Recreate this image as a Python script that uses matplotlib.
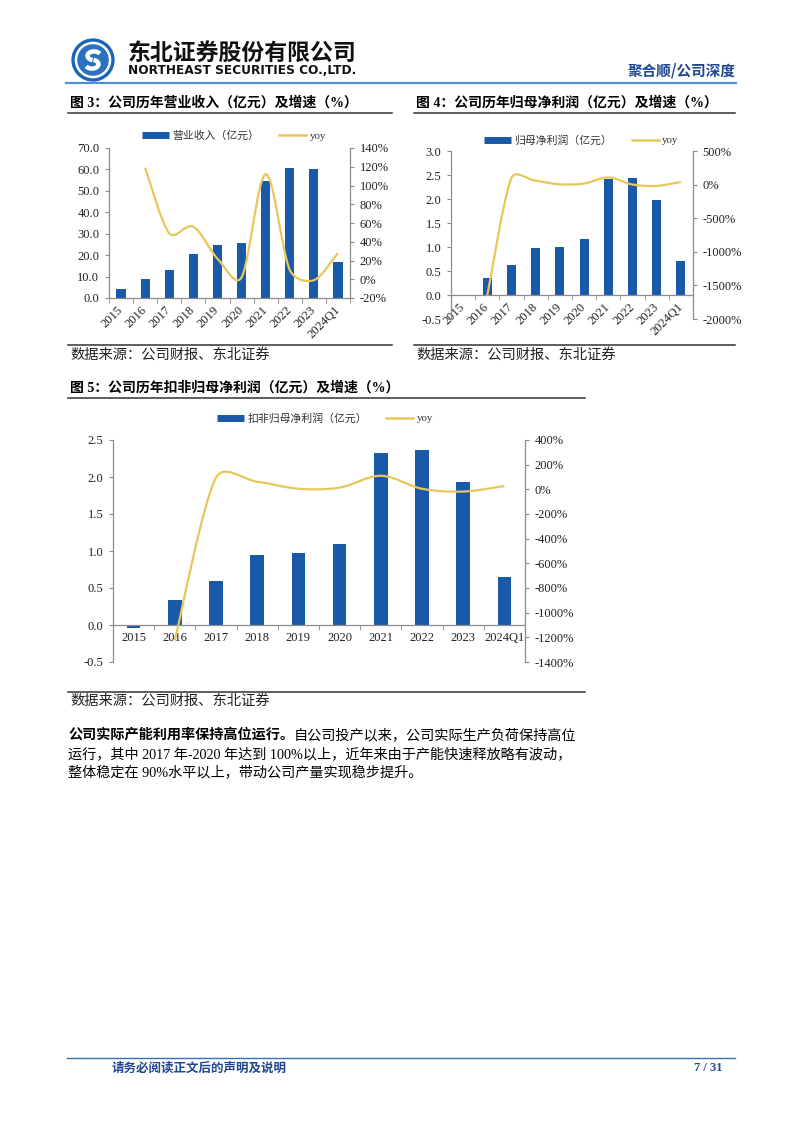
import numpy as np
import matplotlib
matplotlib.use("Agg")
import matplotlib.pyplot as plt
from matplotlib.path import Path
from matplotlib.patches import PathPatch, Circle, Arc
from matplotlib.lines import Line2D
from matplotlib.ticker import FuncFormatter
from matplotlib.font_manager import FontProperties

W, H = 802, 1133

# data
years = ["2015", "2016", "2017", "2018", "2019", "2020", "2021", "2022", "2023", "2024Q1"]
revenue = [4.2, 8.8, 13.2, 20.5, 24.6, 25.9, 54.8, 60.5, 60.3, 16.6]
revenue_yoy = [np.nan, 119, 49, 56, 22, 2, 112, 10, -1, 28]
net_profit = [-0.03, 0.35, 0.62, 0.97, 1.01, 1.17, 2.41, 2.43, 1.98, 0.71]
net_profit_yoy = [np.nan, -1650, 100, 57, 4, 16, 106, 1, -19, 40]
deducted_profit = [-0.04, 0.34, 0.60, 0.95, 0.97, 1.10, 2.32, 2.37, 1.93, 0.65]
deducted_profit_yoy = [np.nan, -1224, 95, 62, 5, 14, 110, 5, -18, 27]

BAR = "#1A58A8"
LINE = "#E8C75A"
AXIS = "#8C8C8C"
NAVY = "#1F4690"
SERIF = ["Liberation Serif", "Noto Sans CJK SC"]
CJK = ["Noto Sans CJK SC", "DejaVu Sans"]

fig = plt.figure(figsize=(W / 100, H / 100), dpi=100)


def box(x0, y0, x1, y1):
    return [x0 / W, 1 - y1 / H, (x1 - x0) / W, (y1 - y0) / H]


def text(x, y, s, **kw):
    return fig.text(x / W, 1 - y / H, s, **kw)


def hline(x0, x1, y, color="#333333", lw=1.0):
    fig.add_artist(Line2D([x0 / W, x1 / W], [1 - y / H] * 2, color=color, lw=lw,
                          transform=fig.transFigure))


def smooth_path(ax, xs, ys, cap=0.4):
    # spreadsheet-style smoothed line: catmull-rom handles, each one kept
    # shorter than a part of its own segment (screen space)
    pts = ax.transData.transform(np.column_stack([xs, ys]))
    n = len(pts)

    def limit(h, seg):
        m = np.hypot(*h)
        return h * min(1.0, cap * seg / m) if m > 0 else h

    verts, codes = [pts[0]], [Path.MOVETO]
    for i in range(n - 1):
        p1, p2 = pts[i], pts[i + 1]
        seg = np.hypot(*(p2 - p1))
        h1 = (p2 - pts[i - 1]) / 6 if i > 0 else (p2 - p1) / 6
        h2 = (pts[i + 2] - p1) / 6 if i + 2 < n else (p2 - p1) / 6
        verts += [p1 + limit(h1, seg), p2 - limit(h2, seg), p2]
        codes += [Path.CURVE4] * 3
    return Path(ax.transData.inverted().transform(np.array(verts)), codes)


def chart(rect, vals, yoy, ylim, ystep, y2lim, y2step, bar_w, label, legend_c,
          rotate, zero_axis, fs):
    ax = fig.add_axes(box(*rect))
    x = np.arange(len(years))
    ax.bar(x, vals, width=bar_w, color=BAR, zorder=2)
    ax.set_xlim(-0.5, len(years) - 0.5)
    ax.set_ylim(*ylim)
    ax.set_yticks(np.round(np.arange(ylim[0], ylim[1] + ystep / 2, ystep), 4))
    ax.yaxis.set_major_formatter(FuncFormatter(lambda v, p: f"{v:.1f}"))
    for s in ("top", "right"):
        ax.spines[s].set_visible(False)
    for s in ("left", "bottom"):
        ax.spines[s].set_color(AXIS)
        ax.spines[s].set_linewidth(0.9)
    if zero_axis:
        ax.spines["bottom"].set_position(("data", 0))
    ax.set_xticks(x)
    ax.set_xticks(np.arange(-0.5, len(years), 1), minor=True)
    if rotate:
        ax.set_xticklabels(years, rotation=45, ha="right", va="center",
                           rotation_mode="anchor")
    else:
        ax.set_xticklabels(years)
    ax.tick_params(axis="x", which="major", length=0, pad=7 if rotate else 5)
    ax.tick_params(axis="x", which="minor", length=3.5, color=AXIS, direction="out")
    ax.tick_params(axis="y", length=3, color=AXIS, pad=4)
    for t in ax.get_xticklabels() + ax.get_yticklabels():
        t.set_fontfamily(SERIF)
        t.set_fontsize(fs)
        t.set_color("#222222")

    ax2 = ax.twinx()
    ax2.set_ylim(*y2lim)
    ax2.set_yticks(np.arange(y2lim[0], y2lim[1] + y2step / 2, y2step))
    ax2.yaxis.set_major_formatter(FuncFormatter(lambda v, p: f"{v:.0f}%"))
    for s in ("top", "left", "bottom"):
        ax2.spines[s].set_visible(False)
    ax2.spines["right"].set_color(AXIS)
    ax2.spines["right"].set_linewidth(0.9)
    ax2.tick_params(axis="y", length=3, color=AXIS, pad=4)
    for t in ax2.get_yticklabels():
        t.set_fontfamily(SERIF)
        t.set_fontsize(fs)
        t.set_color("#222222")
    yy = np.array(yoy, dtype=float)
    ok = ~np.isnan(yy)
    ax2.add_patch(PathPatch(smooth_path(ax2, x[ok], yy[ok]), facecolor="none",
                            edgecolor=LINE, lw=1.6, zorder=3))

    handles = [Line2D([], [], color=BAR, lw=5, solid_capstyle="butt"),
               Line2D([], [], color=LINE, lw=1.8)]
    fig.legend(handles, [label, "yoy"], loc="center",
               bbox_to_anchor=(legend_c[0] / W, 1 - legend_c[1] / H),
               ncol=2, frameon=False, prop=FontProperties(family=SERIF, size=7.8),
               handlelength=2.5, handletextpad=0.3, columnspacing=1.8,
               labelcolor="#333333")
    return ax, ax2


# ---------- header ----------
lg = fig.add_axes(box(71, 38, 115, 82))
lg.set_xlim(-1.05, 1.05)
lg.set_ylim(-1.05, 1.05)
lg.set_aspect("equal")
lg.axis("off")
lg.add_patch(Circle((0, 0), 1.0, color="#1E64B4"))
lg.add_patch(Circle((0, 0), 0.84, color="white"))
lg.add_patch(Circle((0, 0), 0.72, color="#2A72C0"))
lg.add_patch(Arc((0.05, 0.2), 0.62, 0.42, theta1=20, theta2=250, color="white", lw=3.2))
lg.add_patch(Arc((-0.05, -0.2), 0.62, 0.42, theta1=200, theta2=70, color="white", lw=3.2))

text(128, 53, "东北证券股份有限公司", fontsize=16.5, fontweight="bold", family=CJK,
     color="#111111", va="center")
eng = text(128, 71, "NORTHEAST SECURITIES CO.,LTD.", fontsize=8.5, fontweight="bold",
           family="DejaVu Sans", color="#111111", va="center")
r = fig.canvas.get_renderer()
eng.set_fontsize(8.5 * 229 / eng.get_window_extent(r).width)
hline(66, 736, 83, color="#4F8FD6", lw=1.6)
text(736, 70, "聚合顺/公司深度", fontsize=10.5, fontweight="bold", family=CJK,
     color=NAVY, ha="right", va="center")

# ---------- figure 3 and 4 ----------
text(70, 103, "图 3：公司历年营业收入（亿元）及增速（%）", fontsize=10, fontweight="bold",
     family=SERIF, va="center")
hline(68, 392, 113, lw=1.1)
chart((109, 148, 350, 298), revenue, revenue_yoy, (0, 70), 10, (-20, 140), 20,
      0.38, "营业收入（亿元）", (234, 136), True, False, 9)
hline(68, 392, 345, lw=1.1)
text(70, 355, "数据来源：公司财报、东北证券", fontsize=10.3, family=CJK, va="center",
     color="#222222")

text(416, 103, "图 4：公司历年归母净利润（亿元）及增速（%）", fontsize=10, fontweight="bold",
     family=SERIF, va="center")
hline(414, 735, 113, lw=1.1)
chart((451, 151, 693, 319), net_profit, net_profit_yoy, (-0.5, 3.0), 0.5,
      (-2000, 500), 500, 0.37, "归母净利润（亿元）", (581, 140), True, True, 9)
hline(414, 735, 345, lw=1.1)
text(416, 355, "数据来源：公司财报、东北证券", fontsize=10.3, family=CJK, va="center",
     color="#222222")

# ---------- figure 5 ----------
text(70, 388, "图 5：公司历年扣非归母净利润（亿元）及增速（%）", fontsize=10, fontweight="bold",
     family=SERIF, va="center")
hline(68, 585, 398, lw=1.1)
chart((113, 440, 525, 662), deducted_profit, deducted_profit_yoy, (-0.5, 2.5), 0.5,
      (-1400, 400), 200, 0.33, "扣非归母净利润（亿元）", (325, 418), False, True, 9)
hline(68, 585, 692, lw=1.1)
text(70, 701, "数据来源：公司财报、东北证券", fontsize=10.3, family=CJK, va="center",
     color="#222222")

# ---------- paragraph ----------
fs = 10.2
b = text(68, 735, "公司实际产能利用率保持高位运行。", fontsize=fs, fontweight="bold",
         family=CJK, va="center")
bw = b.get_window_extent(r).width
text(68 + bw, 735, "自公司投产以来，公司实际生产负荷保持高位", fontsize=fs,
     family=SERIF, va="center")
text(68, 754, "运行，其中 2017 年-2020 年达到 100%以上，近年来由于产能快速释放略有波动，",
     fontsize=fs, family=SERIF, va="center")
text(68, 773, "整体稳定在 90%水平以上，带动公司产量实现稳步提升。", fontsize=fs,
     family=SERIF, va="center")

# ---------- footer ----------
hline(67, 735, 1058, color="#2E75B6", lw=1.0)
text(112, 1068, "请务必阅读正文后的声明及说明", fontsize=9, fontweight="bold", family=CJK,
     color=NAVY, va="center")
text(722, 1068, "7 / 31", fontsize=9, fontweight="bold", family=SERIF, color=NAVY,
     ha="right", va="center")

fig.savefig("out.png", dpi=100)
